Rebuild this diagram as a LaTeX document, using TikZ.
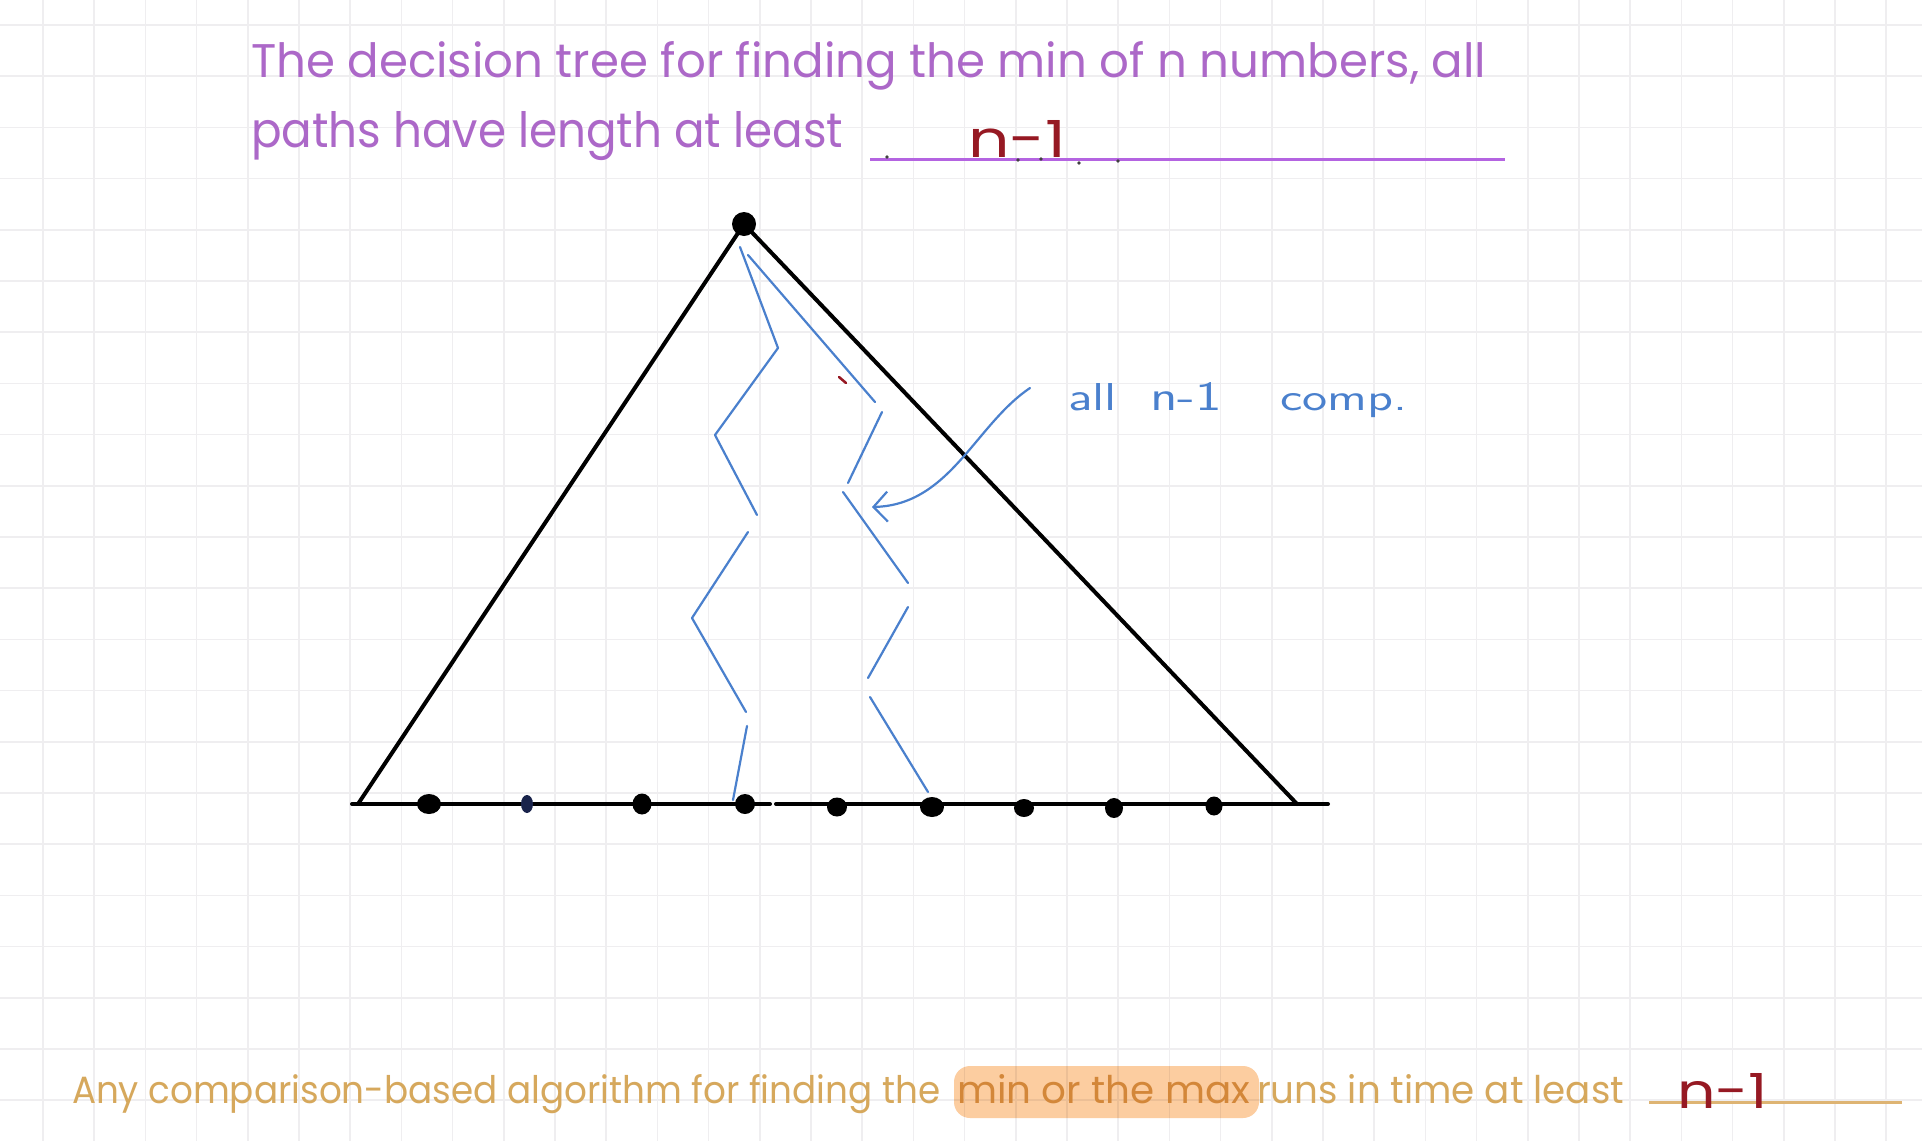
\documentclass[tikz,border=0pt]{standalone}
\usepackage{fontspec}
\usepackage{graphicx}
\usetikzlibrary{arrows.meta,shapes.geometric}
\newfontfamily\hwfont{Poppins}
\definecolor{gridc}{RGB}{239,238,240}
\definecolor{titlec}{RGB}{172,104,200}
\definecolor{ulinec}{RGB}{180,100,225}
\definecolor{redc}{RGB}{150,25,35}
\definecolor{bluec}{RGB}{74,128,205}
\definecolor{goldc}{RGB}{214,168,92}
\definecolor{tanline}{RGB}{222,180,115}
\definecolor{hlc}{RGB}{252,205,160}
\definecolor{navyc}{RGB}{25,35,75}
\begin{document}
\begin{tikzpicture}[x=1pt,y=-1pt,
  gridline/.style={gridc,line width=1.5pt},
  treeline/.style={black,line width=4pt,line cap=round,line join=round},
  pathline/.style={bluec,line width=2.2pt,line cap=round,line join=round},
  leaf/.style={ellipse,fill=black,inner sep=0pt},
  txt/.style={inner sep=0pt,outer sep=0pt,anchor=base west}]

\fill[white] (0,0) rectangle (1922,1141);
\useasboundingbox (0,0) rectangle (1922,1141);
\foreach \i in {0,...,36} \draw[gridline] ({43+51.2*\i},0) -- ({43+51.2*\i},1141);
\foreach \j in {0,...,21} \draw[gridline] (0,{25+51.2*\j}) -- (1922,{25+51.2*\j});

% title
\node[txt,text=titlec] (t1) at (251,77) {\resizebox{1235pt}{36pt}{\hwfont The decision tree for finding the min of n numbers, all}};
\node[txt,text=titlec] (t2) at (251,147) {\resizebox{592pt}{36pt}{\hwfont paths have length at least}};
\coordinate (ulA) at (870,159);
\coordinate (ulB) at (1505,159);
\draw[ulinec,line width=3pt] (ulA) -- (ulB);
\node[txt,text=redc] (ans1) at (968,157) {\resizebox{98pt}{37pt}{\hwfont n-1}};
\foreach \x/\y in {887/157,1018/160,1041/159,1079/163,1118/161} \fill[black!75] (\x,\y) circle (1.8);

% tree
\node[circle,fill=black,minimum size=24pt,inner sep=0pt] (root) at (744,224) {};
\coordinate (BL) at (358,804);
\coordinate (BR) at (1297,804);
\coordinate (BE0) at (352,804);
\coordinate (BGa) at (770,804);
\coordinate (BGb) at (776,804);
\coordinate (BE1) at (1328,804);
\draw[treeline] (BL) -- (root.center) -- (BR);
\draw[treeline] (BE0) -- (BGa);
\draw[treeline] (BGb) -- (BE1);

\node[leaf,minimum width=24pt,minimum height=20pt] (l1) at (429,804) {};
\node[leaf,fill=navyc,minimum width=12pt,minimum height=18pt] (l2) at (527,804) {};
\node[leaf,minimum width=19pt,minimum height=21pt] (l3) at (642,804) {};
\node[leaf,minimum width=20pt,minimum height=20pt] (l4) at (745,804) {};
\node[leaf,minimum width=20pt,minimum height=19pt] (l5) at (837,807) {};
\node[leaf,minimum width=24pt,minimum height=20pt] (l6) at (932,807) {};
\node[leaf,minimum width=20pt,minimum height=18pt] (l7) at (1024,808) {};
\node[leaf,minimum width=18pt,minimum height=20pt] (l8) at (1114,808) {};
\node[leaf,minimum width=17pt,minimum height=19pt] (l9) at (1214,806) {};

% blue paths
\draw[pathline] (740,247) -- (778,348) -- (715,435) -- (757,515);
\draw[pathline] (748,532) -- (692,618) -- (746,712);
\draw[pathline] (747,726) -- (733,800);
\draw[pathline] (748,255) -- (875,402);
\draw[pathline] (882,412) -- (848,483);
\draw[pathline] (843,492) -- (908,583);
\draw[pathline] (908,607) -- (868,678);
\draw[pathline] (870,697) -- (928,792);

% annotation
\coordinate (arrS) at (1030,388);
\coordinate (arrE) at (872,507);
\draw[pathline,-{Straight Barb[length=14pt,width=30pt,line width=2.2pt]}] (arrS) .. controls (975,425) and (950,505) .. (arrE);
\node[txt,text=bluec] (lab) at (1068,410) {\sffamily\resizebox{49pt}{27pt}{all}\hspace{33pt}\resizebox{72pt}{28pt}{n-1}\hspace{58pt}\resizebox{127pt}{17pt}{comp.}};
\draw[redc,line width=2.5pt,line cap=round] (839,377) -- (846,383);

% bottom sentence
\node[txt,text=goldc] (b1) at (72,1103) {\resizebox{868pt}{29pt}{\hwfont Any comparison-based algorithm for finding the}};
\node[txt,text=goldc] (b2) at (957,1103) {\resizebox{293pt}{29pt}{\hwfont min or the max}};
\node[txt,text=goldc] (b3) at (1257,1103) {\resizebox{367pt}{29pt}{\hwfont runs in time at least}};
\fill[hlc,rounded corners=16pt,blend mode=multiply] (954,1066) rectangle (1259,1118);
\coordinate (ulC) at (1649,1102);
\coordinate (ulD) at (1902,1102);
\draw[tanline,line width=3pt] (ulC) -- (ulD);
\node[txt,text=redc] (ans2) at (1677,1108) {\resizebox{91pt}{35pt}{\hwfont n-1}};
\end{tikzpicture}
\end{document}
